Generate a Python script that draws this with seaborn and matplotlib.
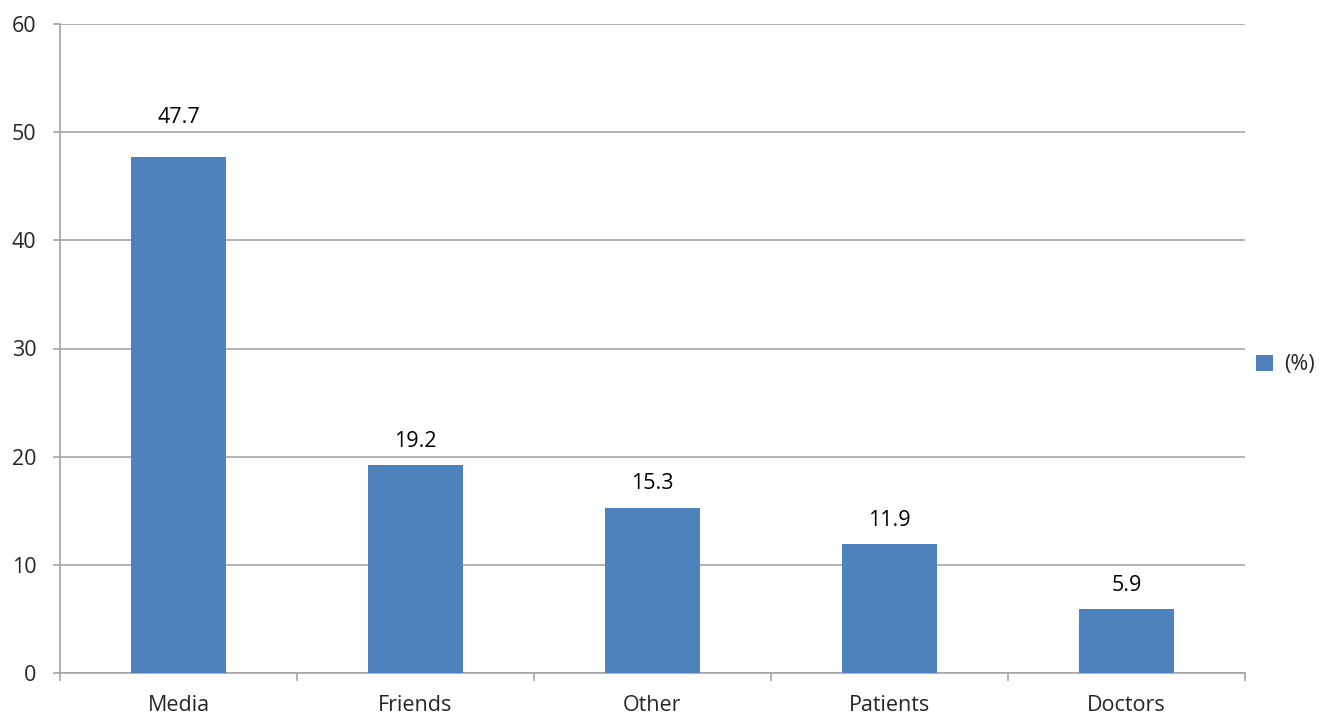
import matplotlib
matplotlib.use('Agg')
import matplotlib.pyplot as plt
import seaborn as sns
import pandas as pd
from matplotlib.patches import Patch

categories = ['Media', 'Friends', 'Other', 'Patients', 'Doctors']
values = [47.7, 19.2, 15.3, 11.9, 5.9]
series_name = '(%)'

df = pd.DataFrame({'source': categories, 'pct': values})

sns.set_style('white')
plt.rcParams['font.family'] = ['Open Sans', 'DejaVu Sans']

bar_color = '#4F81BD'
grid_color = '#A6A6A6'
fs = 15.5

fig = plt.figure(figsize=(13.36, 7.15), dpi=100)
ax = fig.add_axes([60 / 1336, 42 / 715, 1185 / 1336, 649 / 715])

sns.barplot(data=df, x='source', y='pct', color=bar_color, width=0.4,
            saturation=1, edgecolor='none', linewidth=0, ax=ax, zorder=3)

ax.set_ylim(0, 60)
ax.set_xlim(-0.5, len(categories) - 0.5)
yticks = list(range(0, 61, 10))
ax.set_yticks(yticks)
ax.yaxis.grid(True, color=grid_color, linewidth=1.2, zorder=0)
ax.set_axisbelow(True)

# value labels above bars; nudge a label clear of a gridline it would sit on
for i, v in enumerate(values):
    y = v + 2.2
    near = [g for g in yticks if abs(g - y) < 1.0]
    if near:
        y = near[0] + 1.4
    ax.text(i, y, f'{v}', ha='center', va='center', fontsize=fs, color='black')

ax.set_xlabel('')
ax.set_ylabel('')
for side in ['top', 'right']:
    ax.spines[side].set_visible(False)
for side in ['left', 'bottom']:
    ax.spines[side].set_color(grid_color)
    ax.spines[side].set_linewidth(1.2)

# major ticks at category centres carry the labels, minor ticks mark boundaries
ax.set_xticks(range(len(categories)))
ax.set_xticklabels(categories)
ax.set_xticks([i - 0.5 for i in range(len(categories) + 1)], minor=True)
ax.tick_params(bottom=True, left=True, which='both')
ax.tick_params(axis='x', which='major', length=0, pad=16, labelsize=fs)
ax.tick_params(axis='x', which='minor', length=6, width=1.2, color=grid_color, direction='out')
ax.tick_params(axis='y', which='major', length=5, width=1.2, color=grid_color,
               direction='out', labelsize=fs, pad=12)
ax.tick_params(axis='y', which='minor', left=False)

handles = [Patch(facecolor=bar_color, edgecolor='none', label=series_name)]
ax.legend(handles=handles, loc='center left', bbox_to_anchor=(1.0093, 0.475),
          frameon=False, fontsize=fs, handlelength=0.8, handleheight=0.8,
          handletextpad=0.5, borderaxespad=0, borderpad=0)

fig.savefig('out.png', dpi=100)
